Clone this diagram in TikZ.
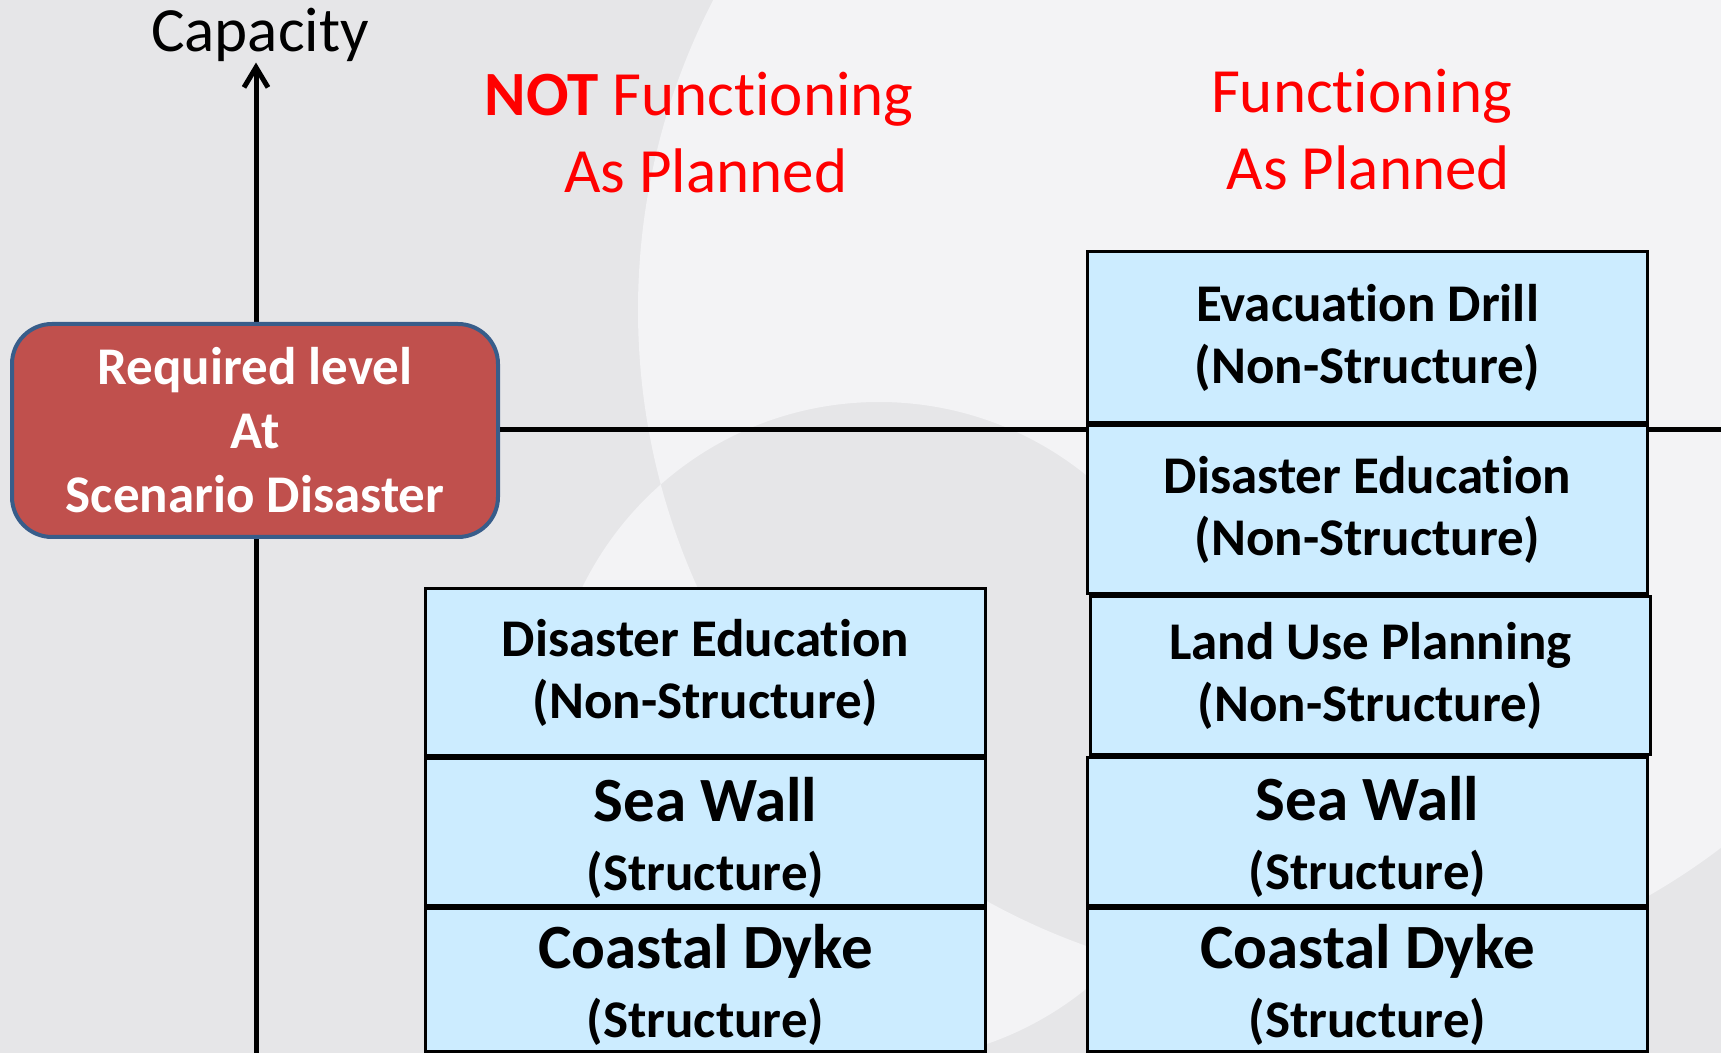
\documentclass[tikz,border=0pt]{standalone}
\usepackage{fontspec}
\setmainfont{Carlito}[RawFeature={-liga}]
\usetikzlibrary{positioning,arrows.meta}

\definecolor{bggray}{RGB}{230,230,232}
\definecolor{bglight}{RGB}{243,243,245}
\definecolor{layerblue}{RGB}{204,236,255}
\definecolor{reqred}{RGB}{192,80,77}
\definecolor{reqedge}{RGB}{56,93,138}
\definecolor{titlered}{RGB}{255,0,0}

\tikzset{
  layer/.style={draw=black, line width=1.5pt, fill=layerblue, minimum width=280pt,
    inner sep=0pt, align=center, font=\bfseries\fontsize{26.5}{31}\selectfont},
  hardlayer/.style={layer, font=\bfseries\fontsize{26.5}{34.5}\selectfont},
  title/.style={text=titlered, align=center, font=\fontsize{31.5}{38.5}\selectfont},
}
\newcommand{\bigline}[1]{{\fontsize{31.5}{34.5}\selectfont\rule{0pt}{28pt}#1}}

\begin{document}
\begin{tikzpicture}[x=0.5pt,y=-0.5pt]
  % background
  \useasboundingbox (0,0) rectangle (1721,1053);
  \fill[bggray] (0,0) rectangle (1721,1053);
  \begin{scope}
    \clip (0,0) rectangle (1721,1053);
    \fill[bglight, even odd rule] (1313,310) circle[radius=337.5pt] (879,732) circle[radius=165pt];
  \end{scope}

  % axis
  \node[inner sep=0pt, anchor=base, font=\fontsize{31.5}{38}\selectfont] (cap) at (260,52) {Capacity};
  \coordinate (axisfoot) at (256,1053);
  \draw[line width=2.5pt, -{Straight Barb[length=10pt,width=12pt]}] (axisfoot) -- (axisfoot |- cap.south);

  % required level
  \node[draw=reqedge, line width=2pt, fill=reqred, rounded corners=20pt, minimum width=243pt,
    minimum height=106.5pt, text=white, align=center, font=\bfseries\fontsize{26.5}{32}\selectfont]
    (req) at (255,430.5) {Required level\\At\\Scenario Disaster};
  \coordinate (lineend) at (1721,430);
  \draw[line width=2.5pt] (req.east |- lineend) -- (lineend);

  % titles
  \node[title] (nottitle) at (699,133) {{\bfseries NOT} Functioning\\\hspace*{6.6pt}As Planned};
  \node[title] (oktitle) at (1361.5,129.5) {Functioning\\\hspace*{6.6pt}As Planned};

  % not functioning
  \node[hardlayer, minimum height=71.5pt] (dyke1) at (705.5,979.5) {\bigline{Coastal Dyke}\\(Structure)};
  \node[hardlayer, minimum height=73pt, above=0pt of dyke1] (wall1) {\bigline{Sea Wall}\\(Structure)};
  \node[layer, minimum height=83.5pt, above=0pt of wall1] (edu1) {Disaster Education\\(Non-Structure)};

  % functioning
  \node[hardlayer, minimum height=71.5pt] (dyke2) at (1367.5,979.5) {\bigline{Coastal Dyke}\\(Structure)};
  \node[hardlayer, minimum height=73.5pt, above=0pt of dyke2] (wall2) {\bigline{Sea Wall}\\(Structure)};
  \node[layer, minimum height=79pt, above=0pt of wall2, xshift=1.5pt] (land2) {Land Use Planning\\(Non-Structure)};
  \node[layer, minimum height=84pt, above=0pt of land2, xshift=-1.5pt] (edu2) {Disaster Education\\(Non-Structure)};
  \node[layer, minimum height=85.5pt, above=0pt of edu2] (drill2) {Evacuation Drill\\(Non-Structure)};
\end{tikzpicture}
\end{document}
